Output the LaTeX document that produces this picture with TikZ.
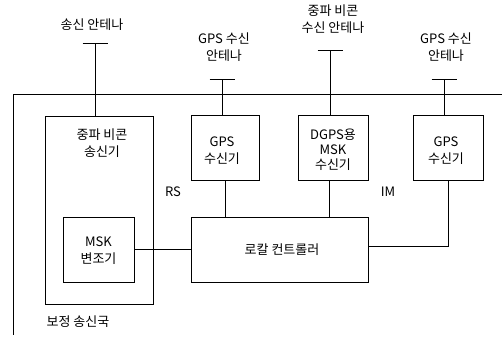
\documentclass[tikz,border=0pt]{standalone}
\usepackage{fontspec}
\setmainfont{Noto Sans CJK KR}
\begin{document}
\begin{tikzpicture}[x=1pt,y=-1pt,
  box/.style={draw,line width=0.8pt,inner sep=0pt},
  txt/.style={align=center,font=\fontsize{13}{17}\selectfont,inner sep=0pt},
  wire/.style={line width=0.8pt}]
\useasboundingbox (0,0) rectangle (502,338);
% frame
\coordinate (fl) at (13,94);
\coordinate (fr) at (502,94);
\coordinate (fb) at (13,335);
\draw[wire] (fr) -- (fl) -- (fb);
% boxes
\node[box,minimum width=108,minimum height=188] (tx) at (99,210) {};
\node[txt] (txl) at (102,143.5) {중파 비콘\\송신기};
\node[box,minimum width=71,minimum height=65] (msk) at (98.5,249.5) {};
\node[txt] (mskl) at (98.5,251) {MSK\\변조기};
\node[box,minimum width=68,minimum height=65] (gps1) at (225,147.5) {};
\node[txt] (gps1l) at (222,151) {GPS\\수신기};
\node[box,minimum width=70,minimum height=65] (dgps) at (333,147.5) {};
\node[txt,font=\fontsize{13}{15}\selectfont] (dgpsl) at (333,150) {DGPS용\\MSK\\수신기};
\node[box,minimum width=70,minimum height=65] (gps2) at (448,147.5) {};
\node[txt] (gps2l) at (446,151) {GPS\\수신기};
\node[box,minimum width=177,minimum height=65] (lc) at (279.5,249.5) {};
\node[txt] (lcl) at (282,249.5) {로칼 컨트롤러};
% antennas
\coordinate (a1) at (95,43);
\coordinate (a2) at (222,79);
\coordinate (a3) at (330,50);
\coordinate (a4) at (444,79);
\foreach \a/\b in {a1/tx,a2/gps1,a3/dgps,a4/gps2}{
  \draw[wire] ([xshift=-12.5]\a) -- ([xshift=12.5]\a);
  \draw[wire] (\a) -- (\a |- \b.north);
}
\node[txt] (t1) at (92,25) {송신 안테나};
\node[txt] (t2) at (224,47) {GPS 수신\\안테나};
\node[txt] (t3) at (333,19) {중파 비콘\\수신 안테나};
\node[txt] (t4) at (446,47) {GPS 수신\\안테나};
% connections
\draw[wire] (gps1.south) -- (gps1.south |- lc.north);
\draw[wire] ([xshift=-4]dgps.south) -- ([xshift=-4]dgps.south |- lc.north);
\draw[wire] (msk.east) -- (lc.west);
\draw[wire] ([yshift=3]lc.east) -- ([yshift=3]gps2.south |- lc.east) -- (gps2.south);
% labels
\node[txt] (rs) at (173,192) {RS};
\node[txt] (im) at (388,192) {IM};
\node[txt] (st) at (78,322) {보정 송신국};
\end{tikzpicture}
\end{document}
